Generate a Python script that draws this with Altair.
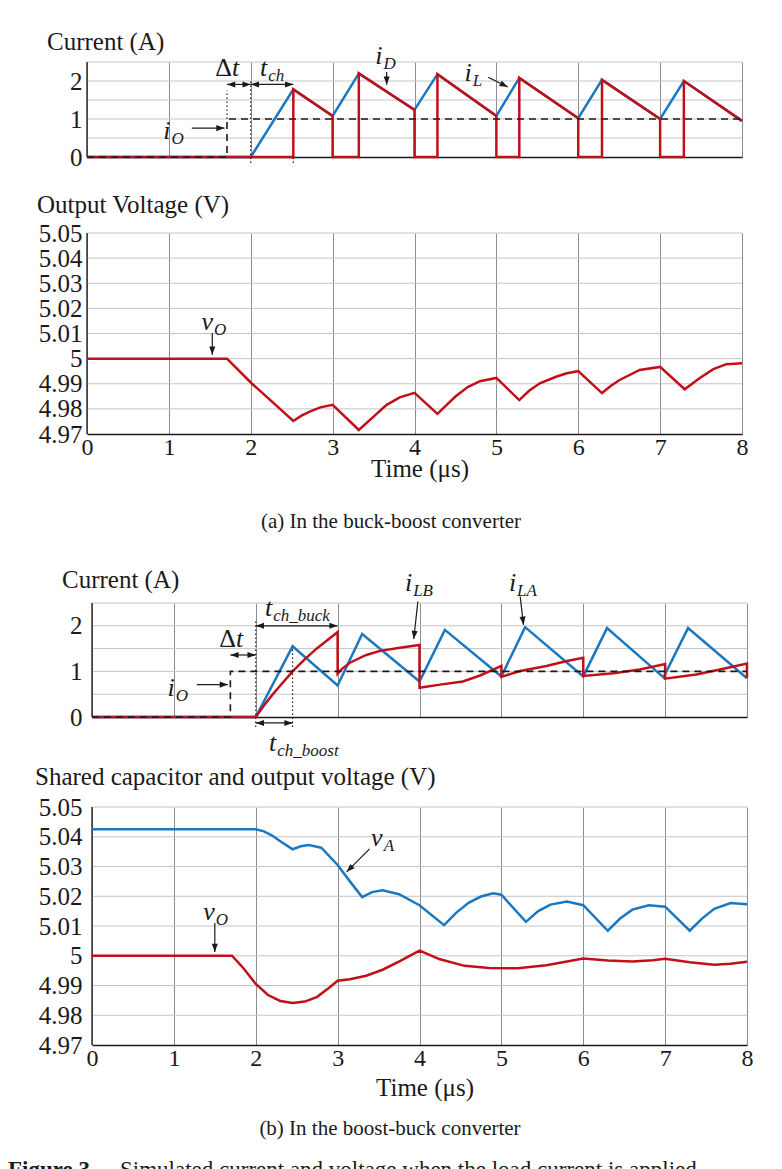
import math
import altair as alt
import pandas as pd

SERIF = "Liberation Serif"
INK = "#1a1a1a"
BLUE = "#1b78c0"
RED = "#c0101a"
GRID_X = "#707070"
GRID_Y = "#c4c4c4"

# ---------------- (a) buck-boost converter ----------------
# inductor current i_L (A) vs time (us)
t_iL_a = [0, 2.0, 2.52, 3.0, 3.32, 4.0, 4.28, 5.0, 5.28, 6.0, 6.29, 7.0, 7.29, 8.0]
iL_a = [0, 0, 1.78, 1.08, 2.20, 1.24, 2.18, 1.08, 2.08, 1.02, 2.03, 1.00, 2.00, 0.95]
# diode current i_D (A)
t_iD_a = [0, 2.52, 2.52, 3.0, 3.0, 3.32, 3.32, 4.0, 4.0, 4.28, 4.28, 5.0, 5.0,
          5.28, 5.28, 6.0, 6.0, 6.29, 6.29, 7.0, 7.0, 7.29, 7.29, 8.0]
iD_a = [0, 0, 1.78, 1.08, 0, 0, 2.20, 1.24, 0, 0, 2.18, 1.08, 0,
        0, 2.08, 1.02, 0, 0, 2.03, 1.00, 0, 0, 2.00, 0.95]
# load current step i_O (A)
t_iO_a = [0, 1.71, 1.71, 8]
iO_a = [0, 0, 1, 1]
# output voltage v_O (V)
t_vO_a = [0, 1.71, 2.0, 2.52, 2.62, 2.72, 2.85, 3.0, 3.32, 3.5, 3.66, 3.82, 4.0,
          4.28, 4.4, 4.5, 4.65, 4.8, 5.0, 5.28, 5.4, 5.53, 5.73, 5.86, 6.0,
          6.29, 6.4, 6.5, 6.75, 7.0, 7.3, 7.48, 7.65, 7.81, 8.0]
vO_a = [5.0, 5.0, 4.9905, 4.9752, 4.9773, 4.9789, 4.9806, 4.9816, 4.9716, 4.9769,
        4.9816, 4.9846, 4.9864, 4.978, 4.9818, 4.9849, 4.9887, 4.991, 4.9923,
        4.9835, 4.9872, 4.9902, 4.9928, 4.9942, 4.995, 4.9863, 4.9892, 4.9914,
        4.9955, 4.9967, 4.9878, 4.9922, 4.9958, 4.9978, 4.9982]

# ---------------- (b) boost-buck converter ----------------
t_iLA = [0, 2.0, 2.45, 3.0, 3.3, 4.0, 4.31, 5.0, 5.29, 6.0, 6.29, 6.98, 7.28, 8.0]
iLA = [0, 0, 1.55, 0.69, 1.82, 0.78, 1.91, 0.89, 1.97, 0.89, 1.95, 0.87, 1.95, 0.85]
t_iLB = [0, 2.0, 2.1, 2.2, 2.3, 2.45, 2.6, 2.75, 2.9, 3.0,
         3.0, 3.05, 3.15, 3.35, 3.52, 3.76, 4.0,
         4.0, 4.25, 4.53, 4.74, 5.0,
         5.0, 5.23, 5.55, 5.8, 6.0,
         6.0, 6.37, 6.69, 7.0,
         7.0, 7.38, 7.67, 8.0, 8.0]
iLB = [0, 0, 0.25, 0.48, 0.69, 1.0, 1.27, 1.51, 1.72, 1.86,
       0.95, 1.05, 1.19, 1.36, 1.45, 1.52, 1.58,
       0.64, 0.71, 0.78, 0.91, 1.12,
       0.88, 1.01, 1.12, 1.23, 1.30,
       0.90, 0.96, 1.04, 1.16,
       0.84, 0.93, 1.04, 1.17, 0.86]
t_iO_b = [0, 1.69, 1.69, 8]
iO_b = [0, 0, 1, 1]
# shared capacitor voltage v_A and output voltage v_O (V)
t_vA = [0, 2.0, 2.1, 2.2, 2.3, 2.45, 2.55, 2.65, 2.8, 3.0, 3.15, 3.3, 3.42, 3.55,
        3.75, 4.0, 4.3, 4.45, 4.6, 4.75, 4.9, 5.0, 5.3, 5.45, 5.6, 5.8, 6.0,
        6.3, 6.45, 6.6, 6.8, 7.0, 7.3, 7.45, 7.6, 7.8, 8.0]
vA = [5.0425, 5.0425, 5.0418, 5.0404, 5.0385, 5.0358, 5.0368, 5.0372, 5.0363,
      5.0305, 5.025, 5.0197, 5.0214, 5.022, 5.0207, 5.017, 5.0103, 5.0145,
      5.0178, 5.0199, 5.021, 5.0205, 5.0114, 5.015, 5.0172, 5.0182, 5.017,
      5.0084, 5.0125, 5.0155, 5.017, 5.0165, 5.0084, 5.0125, 5.0158, 5.0177,
      5.0173]
t_vO_b = [0, 1.71, 1.85, 2.0, 2.15, 2.3, 2.45, 2.6, 2.75, 2.9, 3.0, 3.15, 3.35,
          3.55, 3.76, 4.0, 4.25, 4.55, 4.85, 5.2, 5.55, 5.8, 6.0, 6.3, 6.6,
          6.85, 7.0, 7.3, 7.6, 7.8, 8.0]
vO_b = [5.0, 5.0, 4.9958, 4.9905, 4.9868, 4.9848, 4.9841, 4.9846, 4.9862,
        4.9893, 4.9916, 4.9921, 4.9933, 4.9953, 4.9982, 5.0017, 4.9988,
        4.9966, 4.9959, 4.9958, 4.9968, 4.9981, 4.9991, 4.9984, 4.9981,
        4.9985, 4.999, 4.9978, 4.997, 4.9973, 4.998]

T_TICKS = [0, 1, 2, 3, 4, 5, 6, 7, 8]
I_TICKS = [0, 0.5, 1, 1.5, 2, 2.5]
V_TICKS = [4.97, 4.98, 4.99, 5.0, 5.01, 5.02, 5.03, 5.04, 5.05]

I_LABELS = "datum.value % 1 == 0 && datum.value < 2.4 ? format(datum.value, 'd') : ''"
V_LABELS = "abs(datum.value - 5) < 1e-6 ? '5' : format(datum.value, '.2f')"

PLOT_W = 655
HEAD = "M0,0L-0.55,1.5L0.55,1.5Z"
ONE = pd.DataFrame({"o": [0]})


class Panel:
    def __init__(self, height, ydom, yticks, ylabels, shift, show_x):
        self.h = height
        self.ydom = ydom
        self.yticks = yticks
        self.w = PLOT_W + (5 if shift else 0)
        rng = {"range": [5, PLOT_W + 5]} if shift else {}
        self.xs = alt.Scale(domain=[0, 8], nice=False, zero=False, **rng)
        self.ys = alt.Scale(domain=ydom, nice=False, zero=False)
        self.xaxis = alt.Axis(values=T_TICKS, grid=True, gridColor=GRID_X, gridWidth=0.8,
                              domain=True, domainColor=INK, domainWidth=1.3, ticks=False,
                              labels=show_x, labelFont=SERIF, labelFontSize=24,
                              labelColor=INK, labelPadding=1, labelFlush=False,
                              labelOverlap=False, title=None)
        self.yaxis = alt.Axis(values=yticks, grid=False, domain=False, ticks=False,
                              labelExpr=ylabels, labelFont=SERIF, labelFontSize=25,
                              labelColor=INK, labelPadding=5, labelFlush=False,
                              labelOverlap=False, title=None)
        self.sx = PLOT_W / 8.0
        self.sy = height / (ydom[1] - ydom[0])
        self.layers = []

    def X(self, f):
        return alt.X(f, scale=self.xs, axis=self.xaxis)

    def Y(self, f):
        return alt.Y(f, scale=self.ys, axis=self.yaxis)

    def frame(self):
        # light horizontal grid, drawn from t = 0 to t = 8
        gdf = pd.DataFrame({"v": self.yticks[1:], "t0": 0.0, "t1": 8.0})
        grid = alt.Chart(gdf).mark_rule(color=GRID_Y, strokeWidth=1).encode(
            x=self.X("t0:Q"), x2="t1:Q", y=self.Y("v:Q"))
        # left axis line at t = 0
        ldf = pd.DataFrame({"t": [0.0], "v0": [self.ydom[0]], "v1": [self.ydom[1]]})
        left = alt.Chart(ldf).mark_rule(color=INK, strokeWidth=1.3).encode(
            x=self.X("t:Q"), y=self.Y("v0:Q"), y2="v1:Q")
        self.layers += [grid, left]

    def trace(self, ts, vs, color, width=2.5, dash=None):
        df = pd.DataFrame({"t": ts, "v": vs, "k": list(range(len(ts)))})
        kw = {"color": color, "strokeWidth": width}
        if dash:
            kw["strokeDash"] = dash
        self.layers.append(alt.Chart(df).mark_line(**kw).encode(
            x=self.X("t:Q"), y=self.Y("v:Q"), order="k:Q"))

    def dotted(self, segs):
        df = pd.DataFrame(segs, columns=["t", "v0", "v1"])
        self.layers.append(alt.Chart(df).mark_rule(
            color=INK, strokeWidth=1.2, strokeDash=[1.5, 2.5]).encode(
            x=self.X("t:Q"), y=self.Y("v0:Q"), y2="v1:Q"))

    def arrows(self, specs):
        lines, heads = [], []
        for i, (t0, v0, t1, v1, both) in enumerate(specs):
            lines += [{"id": i, "k": 0, "t": t0, "v": v0},
                      {"id": i, "k": 1, "t": t1, "v": v1}]
            ang = math.degrees(math.atan2((t1 - t0) * self.sx, (v1 - v0) * self.sy)) % 360
            heads.append({"t": t1, "v": v1, "a": ang})
            if both:
                heads.append({"t": t0, "v": v0, "a": (ang + 180) % 360})
        self.layers.append(alt.Chart(pd.DataFrame(lines)).mark_line(
            color=INK, strokeWidth=1.2).encode(
            x=self.X("t:Q"), y=self.Y("v:Q"), detail="id:N", order="k:Q"))
        self.layers.append(alt.Chart(pd.DataFrame(heads)).mark_point(
            shape=HEAD, filled=True, color=INK, opacity=1, size=121, strokeWidth=0).encode(
            x=self.X("t:Q"), y=self.Y("v:Q"), angle=alt.Angle("a:Q", scale=None)))

    def symbols(self, subs, greek=()):
        if subs:
            base = alt.Chart(pd.DataFrame(subs, columns=["head", "tail", "t", "v"]))
            self.layers.append(base.mark_text(
                font=SERIF, fontStyle="italic", fontSize=26, align="right",
                baseline="middle", color=INK).encode(
                x=self.X("t:Q"), y=self.Y("v:Q"), text="head:N"))
            self.layers.append(base.mark_text(
                font=SERIF, fontStyle="italic", fontSize=17, align="left",
                baseline="middle", dy=8, dx=1, color=INK).encode(
                x=self.X("t:Q"), y=self.Y("v:Q"), text="tail:N"))
        if greek:
            base = alt.Chart(pd.DataFrame(greek, columns=["head", "tail", "t", "v"]))
            self.layers.append(base.mark_text(
                font=SERIF, fontSize=26, align="right", baseline="middle",
                color=INK).encode(x=self.X("t:Q"), y=self.Y("v:Q"), text="head:N"))
            self.layers.append(base.mark_text(
                font=SERIF, fontStyle="italic", fontSize=26, align="left",
                baseline="middle", color=INK).encode(
                x=self.X("t:Q"), y=self.Y("v:Q"), text="tail:N"))

    def note(self, text, x, y, size=25, align="left", weight="normal"):
        self.layers.append(alt.Chart(ONE).mark_text(
            text=text, font=SERIF, fontSize=size, align=align, baseline="alphabetic",
            fontWeight=weight, color=INK).encode(x=alt.value(x), y=alt.value(y)))

    def chart(self):
        return alt.layer(*self.layers).properties(width=self.w, height=self.h)


def spacer(h):
    return alt.Chart(ONE).mark_point(opacity=0).encode(
        x=alt.value(0), y=alt.value(0)).properties(width=PLOT_W, height=h)


# ---- (a) currents
p1 = Panel(95, [0, 2.5], I_TICKS, I_LABELS, shift=False, show_x=False)
p1.frame()
p1.trace(t_iL_a, iL_a, BLUE)
p1.trace(t_iD_a, iD_a, RED)
p1.trace(t_iO_a, iO_a, INK, width=1.6, dash=[7, 5])
p1.dotted([(1.71, 1.0, 1.75), (2.0, -0.16, 2.0), (2.52, -0.16, 0.0)])
p1.arrows([(1.28, 0.76, 1.68, 0.76, False),
           (1.71, 1.91, 2.0, 1.91, True),
           (2.0, 1.91, 2.52, 1.91, True),
           (3.66, 2.24, 3.66, 1.90, False),
           (4.90, 2.10, 5.14, 1.84, False)])
p1.symbols([("i", "O", 1.02, 0.69), ("i", "D", 3.61, 2.66),
            ("i", "L", 4.70, 2.21), ("t", "ch", 2.20, 2.34)],
           [("Δ", "t", 1.77, 2.34)])
p1.note("Current (A)", -40, -12)
# fixes the top-left corner of the whole figure
p1.layers.append(alt.Chart(ONE).mark_rule(opacity=0, strokeWidth=0).encode(
    x=alt.value(-87), x2=alt.value(-87), y=alt.value(-62), y2=alt.value(-62)))

# ---- (a) output voltage
p2 = Panel(201, [4.97, 5.05], V_TICKS, V_LABELS, shift=False, show_x=True)
p2.frame()
p2.trace(t_vO_a, vO_a, RED)
p2.arrows([(1.53, 5.0102, 1.53, 5.0015, False)])
p2.symbols([("v", "O", 1.54, 5.0146)])
p2.note("Output Voltage (V)", -50, -20)
p2.note("Time (μs)", 333, 244, align="center")
p2.note("(a) In the buck-boost converter", 304, 295, size=21, align="center")

# ---- (b) currents
p3 = Panel(114, [0, 2.5], I_TICKS, I_LABELS, shift=True, show_x=False)
p3.frame()
p3.trace(t_iLA, iLA, BLUE)
p3.trace(t_iLB, iLB, RED)
p3.trace(t_iO_b, iO_b, INK, width=1.6, dash=[7, 5])
p3.dotted([(2.0, -0.22, 2.15), (2.45, -0.22, 1.55)])
p3.arrows([(1.28, 0.71, 1.66, 0.71, False),
           (1.69, 1.36, 2.0, 1.36, True),
           (2.0, 2.0, 3.0, 2.0, True),
           (2.0, -0.13, 2.45, -0.13, True),
           (3.98, 2.53, 3.93, 1.71, False),
           (5.23, 2.64, 5.27, 2.02, False)])
p3.symbols([("t", "ch_buck", 2.20, 2.38), ("i", "O", 1.01, 0.64),
            ("t", "ch_boost", 2.25, -0.58), ("i", "LB", 3.91, 2.93),
            ("i", "LA", 5.18, 2.93)],
           [("Δ", "t", 1.76, 1.71)])
p3.note("Current (A)", -25, -15)

# ---- (b) voltages
p4 = Panel(238, [4.97, 5.05], V_TICKS, V_LABELS, shift=True, show_x=True)
p4.frame()
p4.trace(t_vA, vA, BLUE)
p4.trace(t_vO_b, vO_b, RED)
p4.arrows([(3.39, 5.0359, 3.11, 5.0282, False),
           (1.50, 5.0110, 1.50, 5.0013, False)])
p4.symbols([("v", "A", 3.55, 5.0396), ("v", "O", 1.50, 5.0147)])
p4.note("Shared capacitor and output voltage (V)", -52, -22)
p4.note("Time (μs)", 338, 289, align="center")
p4.note("(b) In the boost-buck converter", 303, 328, size=21, align="center")
p4.note("Figure 3.", -79, 370, size=23, weight="bold")
p4.note("Simulated current and voltage when the load current is applied.", 33, 370, size=23)

chart = alt.vconcat(
    p1.chart(), spacer(76), p2.chart(), spacer(169), p3.chart(), spacer(90), p4.chart(),
    spacing=0, bounds="flush",
).properties(padding=0, background="white").configure_view(strokeWidth=0)

chart.save("out.html", embed_options={"renderer": "svg", "actions": False})
